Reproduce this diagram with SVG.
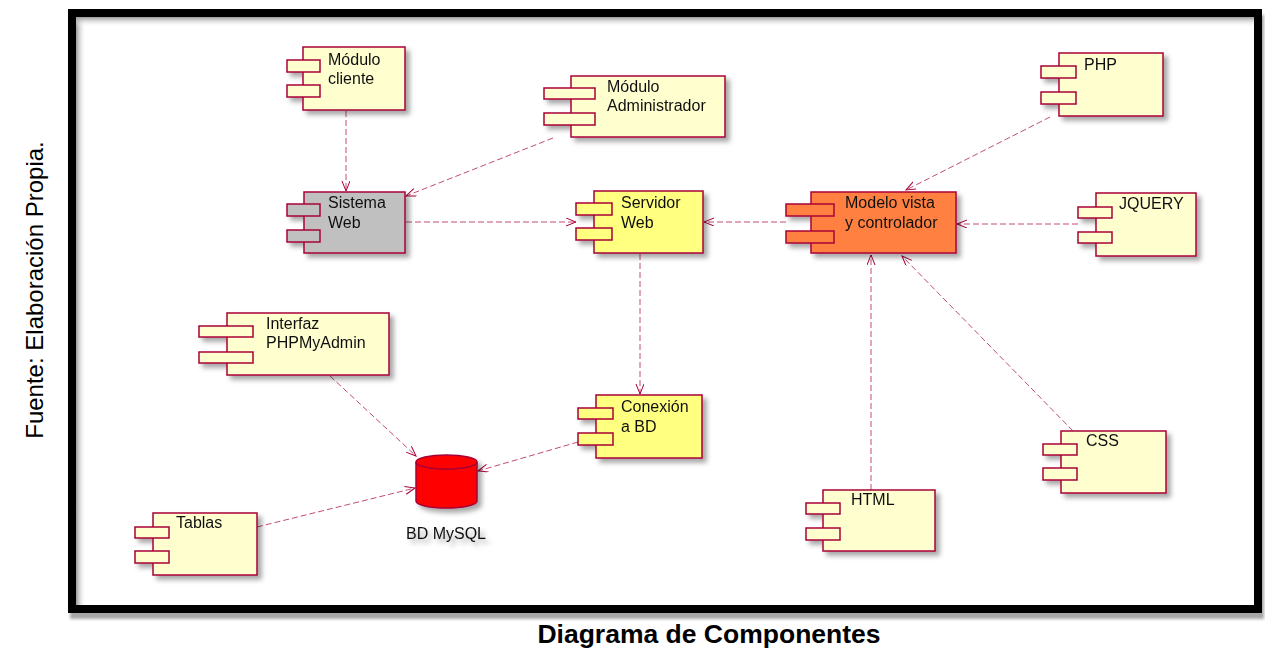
<svg xmlns="http://www.w3.org/2000/svg" width="1265" height="650" viewBox="0 0 1265 650">
  <defs>
    <filter id="shadow" x="-20%" y="-20%" width="150%" height="150%">
      <feDropShadow dx="4" dy="4" stdDeviation="2.5" flood-color="#000" flood-opacity="0.35"/>
    </filter>
    <filter id="frameShadow" x="-5%" y="-5%" width="110%" height="110%">
      <feDropShadow dx="2" dy="6" stdDeviation="1.5" flood-color="#000" flood-opacity="0.35"/>
    </filter>
    <linearGradient id="innerLeft" x1="0" y1="0" x2="1" y2="0">
      <stop offset="0" stop-color="#9a9a9a"/>
      <stop offset="1" stop-color="#fff" stop-opacity="0"/>
    </linearGradient>
    <linearGradient id="innerTop" x1="0" y1="0" x2="0" y2="1">
      <stop offset="0" stop-color="#9a9a9a"/>
      <stop offset="1" stop-color="#fff" stop-opacity="0"/>
    </linearGradient>
    <marker id="arrow" markerWidth="12" markerHeight="10" refX="10" refY="4" orient="auto" markerUnits="userSpaceOnUse">
      <path d="M0,0 L10,4 L0,8" fill="none" stroke="#A80036" stroke-width="1"/>
    </marker>
    <style>
      .body { fill: #FEFECE; stroke: #A80036; stroke-width: 1.5; }
      .port { fill: #FEFECE; stroke: #A80036; stroke-width: 1.5; }
      .gray .body, .gray .port { fill: #C0C0C0; }
      .yellow .body, .yellow .port { fill: #FFFF80; }
      .orange .body, .orange .port { fill: #FF8040; }
      .comp { filter: url(#shadow); }
      .label { font-family: "Liberation Sans", Arial, sans-serif; font-size: 16px; fill: #111; }
      .dep { fill: none; stroke: #A80036; stroke-width: 1; stroke-dasharray: 6 3; stroke-opacity: 0.7; marker-end: url(#arrow); }
    </style>
  </defs>

  <rect x="0" y="0" width="1265" height="650" fill="#fff"/>

  <!-- outer frame with inner top-left shading -->
  <g id="frame">
    <rect x="72" y="13" width="1186" height="596" fill="#fff" stroke="#000" stroke-width="8" filter="url(#frameShadow)"/>
    <rect x="76" y="17" width="10" height="588" fill="url(#innerLeft)"/>
    <rect x="76" y="17" width="1178" height="10" fill="url(#innerTop)"/>
  </g>

  <!-- dependencies -->
  <g id="connectors">
    <line class="dep" x1="346" y1="111" x2="346" y2="191"/>
    <line class="dep" x1="553" y1="138" x2="406" y2="196"/>
    <line class="dep" x1="406" y1="222" x2="576" y2="222"/>
    <line class="dep" x1="786" y1="222" x2="704" y2="222"/>
    <line class="dep" x1="1050" y1="117" x2="906" y2="190"/>
    <line class="dep" x1="1078" y1="224" x2="957" y2="224"/>
    <line class="dep" x1="1073" y1="431" x2="902" y2="256"/>
    <line class="dep" x1="871" y1="490" x2="871" y2="255"/>
    <line class="dep" x1="640" y1="254" x2="640" y2="394"/>
    <line class="dep" x1="578" y1="442" x2="478" y2="471"/>
    <line class="dep" x1="330" y1="376" x2="416" y2="456"/>
    <line class="dep" x1="257" y1="527" x2="415" y2="488"/>
  </g>

  <g id="modulo-cliente" class="comp">
    <rect class="body" x="303" y="47" width="102" height="63"/>
    <rect class="port" x="287" y="60" width="33" height="12"/>
    <rect class="port" x="287" y="85" width="33" height="12"/>
    <text class="label" x="328" y="65">Módulo</text>
    <text class="label" x="328" y="84">cliente</text>
  </g>

  <g id="modulo-administrador" class="comp">
    <rect class="body" x="571" y="76" width="154" height="61"/>
    <rect class="port" x="544" y="88" width="51" height="11"/>
    <rect class="port" x="544" y="113" width="51" height="12"/>
    <text class="label" x="607" y="92">Módulo</text>
    <text class="label" x="607" y="111">Administrador</text>
  </g>

  <g id="sistema-web" class="comp gray">
    <rect class="body" x="304" y="192" width="101" height="61"/>
    <rect class="port" x="287" y="204" width="33" height="12"/>
    <rect class="port" x="287" y="230" width="33" height="12"/>
    <text class="label" x="328" y="208">Sistema</text>
    <text class="label" x="328" y="228">Web</text>
  </g>

  <g id="servidor-web" class="comp yellow">
    <rect class="body" x="594" y="191" width="109" height="62"/>
    <rect class="port" x="576" y="203" width="36" height="12"/>
    <rect class="port" x="576" y="228" width="36" height="12"/>
    <text class="label" x="621" y="208">Servidor</text>
    <text class="label" x="621" y="228">Web</text>
  </g>

  <g id="modelo-vista-controlador" class="comp orange">
    <rect class="body" x="811" y="192" width="145" height="61"/>
    <rect class="port" x="786" y="204" width="48" height="12"/>
    <rect class="port" x="786" y="231" width="48" height="12"/>
    <text class="label" x="845" y="208">Modelo vista</text>
    <text class="label" x="845" y="228">y controlador</text>
  </g>

  <g id="php" class="comp">
    <rect class="body" x="1059" y="53" width="104" height="63"/>
    <rect class="port" x="1041" y="66" width="35" height="12"/>
    <rect class="port" x="1041" y="92" width="35" height="12"/>
    <text class="label" x="1084" y="70">PHP</text>
  </g>

  <g id="jquery" class="comp">
    <rect class="body" x="1096" y="193" width="100" height="63"/>
    <rect class="port" x="1078" y="207" width="34" height="11"/>
    <rect class="port" x="1078" y="232" width="34" height="11"/>
    <text class="label" x="1119" y="209">JQUERY</text>
  </g>

  <g id="interfaz-phpmyadmin" class="comp">
    <rect class="body" x="227" y="313" width="162" height="62"/>
    <rect class="port" x="199" y="326" width="54" height="11"/>
    <rect class="port" x="199" y="352" width="54" height="11"/>
    <text class="label" x="266" y="329">Interfaz</text>
    <text class="label" x="266" y="348">PHPMyAdmin</text>
  </g>

  <g id="conexion-bd" class="comp yellow">
    <rect class="body" x="596" y="395" width="106" height="63"/>
    <rect class="port" x="578" y="408" width="35" height="11"/>
    <rect class="port" x="578" y="433" width="35" height="12"/>
    <text class="label" x="621" y="412">Conexión</text>
    <text class="label" x="621" y="432">a BD</text>
  </g>

  <g id="bd-mysql" class="comp">
    <path d="M416,462 L416,501 A30.5,7 0 0 0 477,501 L477,462 A30.5,7 0 0 0 416,462 Z" fill="#FF0000" stroke="#A80036" stroke-width="1.5"/>
    <path d="M416,462 A30.5,7 0 0 0 477,462" fill="none" stroke="#A80036" stroke-width="1.5"/>
    <text class="label" x="446" y="539" text-anchor="middle">BD MySQL</text>
  </g>

  <g id="tablas" class="comp">
    <rect class="body" x="153" y="513" width="104" height="62"/>
    <rect class="port" x="135" y="527" width="34" height="11"/>
    <rect class="port" x="135" y="551" width="34" height="12"/>
    <text class="label" x="176" y="528">Tablas</text>
  </g>

  <g id="html" class="comp">
    <rect class="body" x="823" y="490" width="112" height="61"/>
    <rect class="port" x="806" y="503" width="34" height="11"/>
    <rect class="port" x="806" y="528" width="34" height="12"/>
    <text class="label" x="851" y="505">HTML</text>
  </g>

  <g id="css" class="comp">
    <rect class="body" x="1061" y="431" width="105" height="62"/>
    <rect class="port" x="1043" y="444" width="34" height="11"/>
    <rect class="port" x="1043" y="468" width="34" height="12"/>
    <text class="label" x="1086" y="446">CSS</text>
  </g>

  <!-- captions -->
  <text x="43" y="290" transform="rotate(-90 43 290)" text-anchor="middle" font-family="Liberation Sans, Arial, sans-serif" font-size="24" fill="#000">Fuente: Elaboración Propia.</text>
  <text x="709" y="643" text-anchor="middle" font-family="Liberation Sans, Arial, sans-serif" font-size="26.5" font-weight="bold" fill="#000">Diagrama de Componentes</text>
</svg>
